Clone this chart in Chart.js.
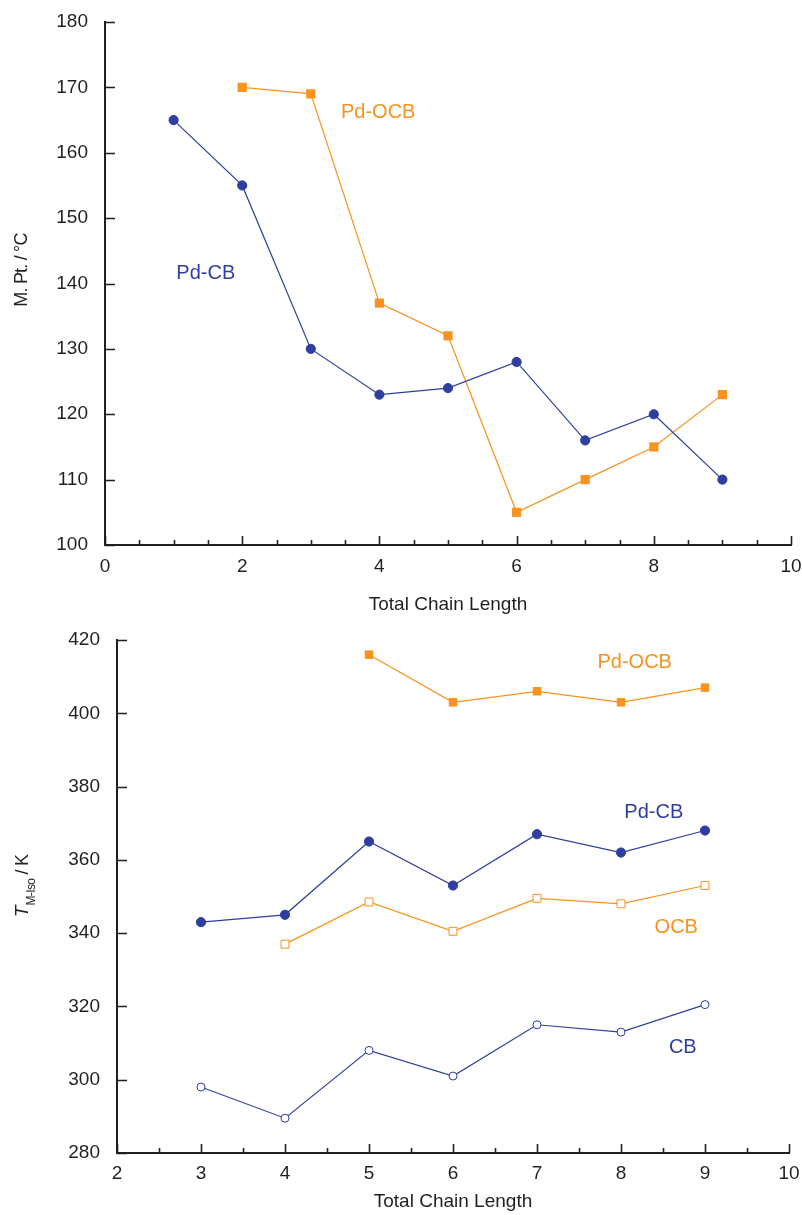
<!DOCTYPE html>
<html><head><meta charset="utf-8">
<script src="https://cdn.jsdelivr.net/npm/chart.js@4/dist/chart.umd.min.js"></script>
<style>
html,body{margin:0;padding:0;background:#fff;}
#wrap{position:relative;width:802px;height:1215px;overflow:hidden;}
canvas{position:absolute;left:0;}
</style></head><body>
<div id="wrap">
<canvas id="c1" width="802" height="614" style="top:0px"></canvas>
<canvas id="c2" width="802" height="601" style="top:614px"></canvas>
</div>
<script>
const BLUE = '#2E3E9E';
const ORANGE = '#F7931E';
const INK = '#231f20';
const FONT = "'Liberation Sans', Arial, Helvetica, sans-serif";

// ---------- Top chart: melting point ----------
const topPdCB_x  = [1, 2, 3, 4, 5, 6, 7, 8, 9];
const topPdCB_y  = [165, 155, 130, 123, 124, 128, 116, 120, 110];
const topPdOCB_x = [2, 3, 4, 5, 6, 7, 8, 9];
const topPdOCB_y = [170, 169, 137, 132, 105, 110, 115, 123];
const topXTicks  = [0, 2, 4, 6, 8, 10];
const topYTicks  = [100, 110, 120, 130, 140, 150, 160, 170, 180];

// ---------- Bottom chart: T(M-Iso) ----------
const botPdOCB_x = [5, 6, 7, 8, 9];
const botPdOCB_y = [416, 403, 406, 403, 407];
const botPdCB_x  = [3, 4, 5, 6, 7, 8, 9];
const botPdCB_y  = [343, 345, 365, 353, 367, 362, 368];
const botOCB_x   = [4, 5, 6, 7, 8, 9];
const botOCB_y   = [337, 348.5, 340.5, 349.5, 348, 353];
const botCB_x    = [3, 4, 5, 6, 7, 8, 9];
const botCB_y    = [298, 289.5, 308, 301, 315, 313, 320.5];
const botXTicks  = [2, 3, 4, 5, 6, 7, 8, 9, 10];
const botYTicks  = [280, 300, 320, 340, 360, 380, 400, 420];

const xy = (xs, ys) => xs.map((x, i) => ({x, y: ys[i]}));

// series labels placed in data units
const topLabels = [
  {text: 'Pd-OCB', x: 3.44, y: 166.1, color: ORANGE},
  {text: 'Pd-CB',  x: 1.04, y: 141.5, color: BLUE}
];
const botLabels = [
  {text: 'Pd-OCB', x: 7.72, y: 413.9, color: ORANGE},
  {text: 'Pd-CB',  x: 8.04, y: 372.8, color: BLUE},
  {text: 'OCB',    x: 8.40, y: 341.6, color: ORANGE},
  {text: 'CB',     x: 8.57, y: 308.7, color: BLUE}
];

const decor = {
  id: 'decor',
  afterDraw(chart, args, o) {
    const ctx = chart.ctx, xs = chart.scales.x, ys = chart.scales.y;
    const {left, bottom} = chart.chartArea;
    ctx.save();
    // inward tick marks
    ctx.strokeStyle = INK; ctx.lineWidth = 1.6;
    ctx.beginPath();
    const n = Math.round((xs.max - xs.min) / o.xMinor);
    for (let i = 0; i <= n; i++) {
      const v = xs.min + i * o.xMinor;
      const px = Math.round(xs.getPixelForValue(v)) + 0.5;
      const r = v / o.xMajor;
      const len = Math.abs(r - Math.round(r)) < 1e-6 ? 9 : 5;
      ctx.moveTo(px, bottom); ctx.lineTo(px, bottom - len);
    }
    const m = Math.round((ys.max - ys.min) / o.yMajor);
    for (let i = 0; i <= m; i++) {
      const py = Math.round(ys.getPixelForValue(ys.min + i * o.yMajor)) + 0.5;
      ctx.moveTo(left, py); ctx.lineTo(left + 10, py);
    }
    ctx.stroke();
    // series labels
    ctx.textBaseline = 'middle'; ctx.textAlign = 'left';
    ctx.font = '20px ' + FONT;
    for (const l of o.labels) {
      ctx.fillStyle = l.color;
      ctx.fillText(l.text, xs.getPixelForValue(l.x), ys.getPixelForValue(l.y));
    }
    // rotated y title
    ctx.translate(o.ytitle.x, o.ytitle.y);
    ctx.rotate(-Math.PI / 2);
    ctx.fillStyle = INK;
    ctx.textBaseline = 'alphabetic';
    const parts = o.ytitle.parts;
    let total = 0;
    for (const p of parts) {
      ctx.font = p.font;
      ctx.letterSpacing = p.ls || '0px';
      p.w = ctx.measureText(p.text).width;
      total += p.w;
    }
    let cx = -total / 2;
    for (const p of parts) {
      ctx.font = p.font;
      ctx.letterSpacing = p.ls || '0px';
      ctx.fillText(p.text, cx, p.dy || 0);
      cx += p.w;
    }
    ctx.restore();
  }
};

function zeroPad(s) { s.paddingLeft = 0; s.paddingRight = 0; s.paddingTop = 0; s.paddingBottom = 0; }

function baseOptions(cfg) {
  return {
    responsive: false,
    animation: false,
    devicePixelRatio: 1,
    layout: {autoPadding: false, padding: cfg.padding},
    plugins: {
      legend: {display: false},
      tooltip: {enabled: false},
      decor: cfg.decor
    },
    scales: {
      x: {
        type: 'linear', min: cfg.xmin, max: cfg.xmax,
        afterBuildTicks: s => { s.ticks = cfg.xticks.map(v => ({value: v})); },
        afterFit: s => { s.height = cfg.xh; zeroPad(s); },
        grid: {display: false, drawTicks: false},
        border: {display: true, color: INK, width: 2},
        ticks: {color: INK, font: {family: FONT, size: 19}, padding: cfg.xpad, maxRotation: 0, autoSkip: false},
        title: {display: true, text: 'Total Chain Length', color: INK,
                font: {family: FONT, size: 19, lineHeight: 1}, padding: {top: 0, bottom: cfg.tpad}}
      },
      y: {
        type: 'linear', min: cfg.ymin, max: cfg.ymax,
        afterBuildTicks: s => { s.ticks = cfg.yticks.map(v => ({value: v})); },
        afterFit: s => { s.width = cfg.yw; zeroPad(s); },
        grid: {display: false, drawTicks: false},
        border: {display: true, color: INK, width: 2},
        ticks: {color: INK, font: {family: FONT, size: 19}, padding: 17, autoSkip: false}
      }
    }
  };
}

const lineDs = (label, data, color, style, r, bg, bw) => ({
  label, data, borderColor: color, borderWidth: 1.2, showLine: true, fill: false,
  pointStyle: style, pointRadius: r, pointBackgroundColor: bg,
  pointBorderColor: color, pointBorderWidth: bw, tension: 0
});

new Chart(document.getElementById('c1'), {
  type: 'scatter',
  data: {datasets: [
    lineDs('Pd-CB', xy(topPdCB_x, topPdCB_y), BLUE, 'circle', 4.6, BLUE, 1),
    lineDs('Pd-OCB', xy(topPdOCB_x, topPdOCB_y), ORANGE, 'rect', 6.5, ORANGE, 0)
  ]},
  options: baseOptions({
    padding: {top: 22, right: 11, left: 0, bottom: 0},
    xmin: 0, xmax: 10, ymin: 100, ymax: 180,
    xticks: topXTicks, yticks: topYTicks,
    xh: 69, yw: 105, xpad: 10, tpad: 0,
    decor: {xMinor: 0.5, xMajor: 2, yMajor: 10, labels: topLabels,
      ytitle: {x: 27, y: 270, parts: [{text: 'M. Pt. / °C', font: '18px ' + FONT, ls: '-0.8px'}]}}
  }),
  plugins: [decor]
});

new Chart(document.getElementById('c2'), {
  type: 'scatter',
  data: {datasets: [
    lineDs('Pd-OCB', xy(botPdOCB_x, botPdOCB_y), ORANGE, 'rect', 6.0, ORANGE, 0),
    lineDs('Pd-CB', xy(botPdCB_x, botPdCB_y), BLUE, 'circle', 4.6, BLUE, 1),
    lineDs('OCB', xy(botOCB_x, botOCB_y), ORANGE, 'rect', 5.6, '#ffffff', 1),
    lineDs('CB', xy(botCB_x, botCB_y), BLUE, 'circle', 4.0, '#ffffff', 1)
  ]},
  options: baseOptions({
    padding: {top: 26, right: 13, left: 0, bottom: 0},
    xmin: 2, xmax: 10, ymin: 280, ymax: 420,
    xticks: botXTicks, yticks: botYTicks,
    xh: 62, yw: 117, xpad: 9, tpad: 3.5,
    decor: {xMinor: 0.5, xMajor: 1, yMajor: 20, labels: botLabels,
      ytitle: {x: 28, y: 272, parts: [
        {text: 'T', font: 'italic 19px ' + FONT},
        {text: 'M-Iso', font: '12px ' + FONT, dy: 7, ls: '-0.6px'},
        {text: ' / K', font: '18px ' + FONT, ls: '-0.8px'}
      ]}}
  }),
  plugins: [decor]
});
</script>
</body></html>
